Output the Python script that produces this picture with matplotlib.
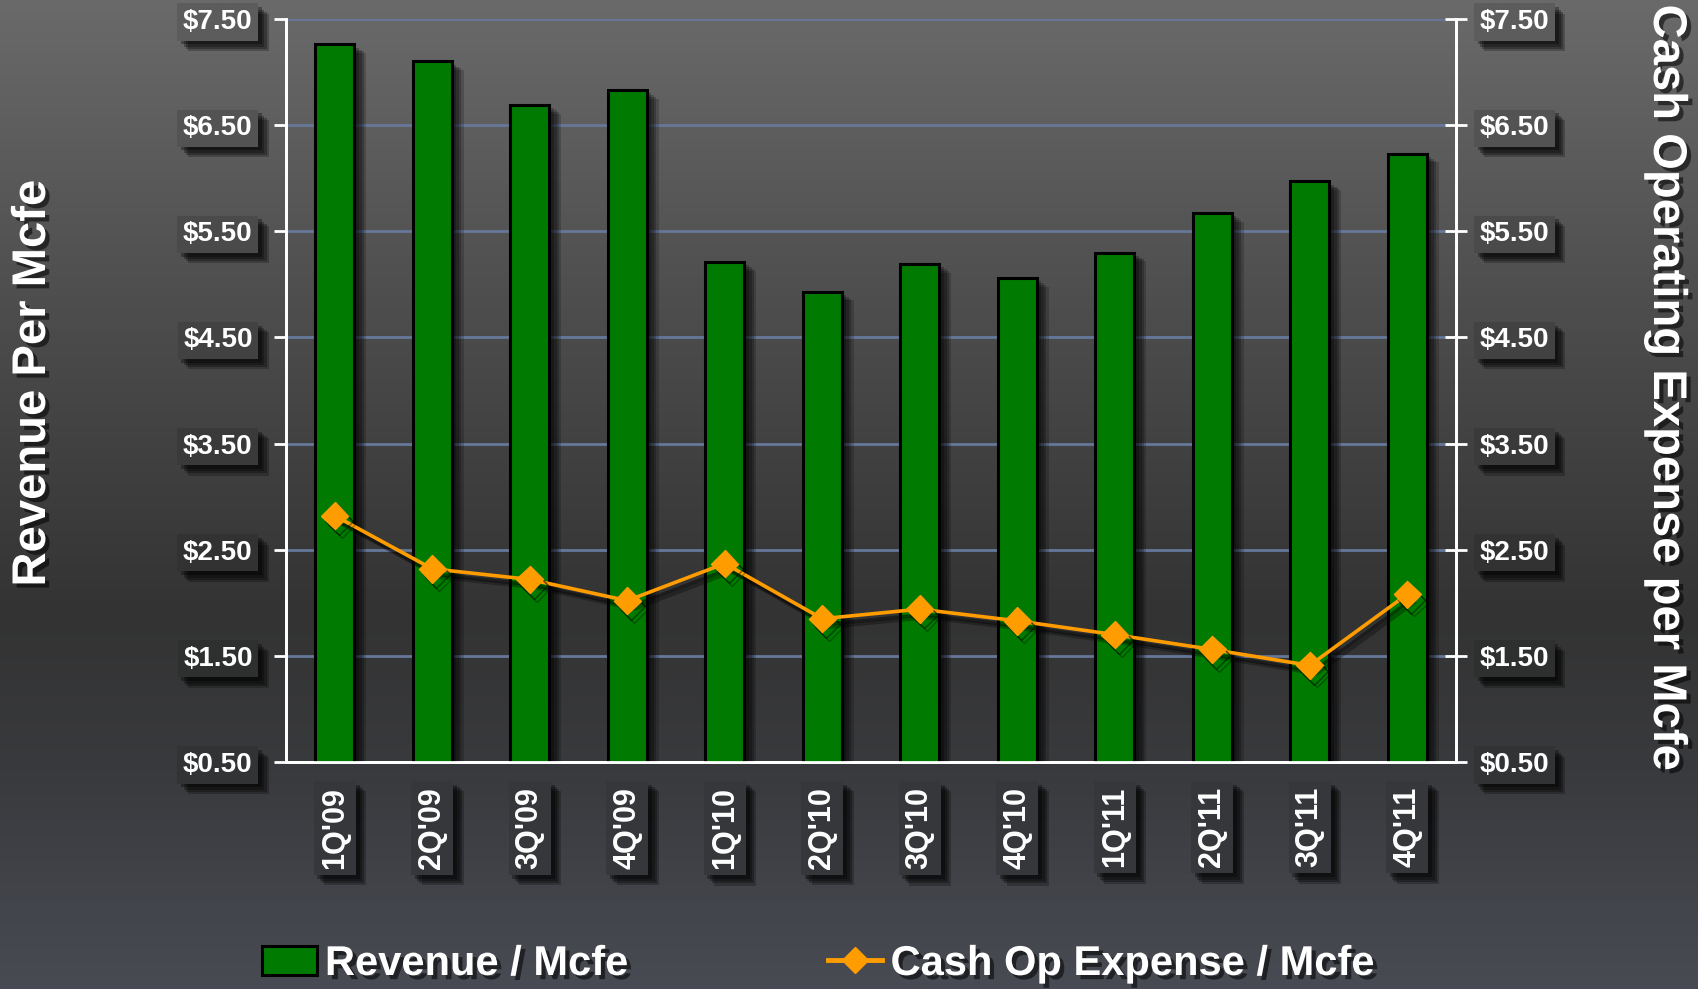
import numpy as np
import matplotlib
matplotlib.use("Agg")
import matplotlib.pyplot as plt
import matplotlib.patheffects as pe
from matplotlib.patches import Patch
from matplotlib.lines import Line2D
from matplotlib.colors import to_rgb

# ---------------- data ----------------
quarters = ["1Q'09", "2Q'09", "3Q'09", "4Q'09", "1Q'10", "2Q'10",
            "3Q'10", "4Q'10", "1Q'11", "2Q'11", "3Q'11", "4Q'11"]
revenue_per_mcfe = [7.26, 7.10, 6.69, 6.83, 5.21, 4.93,
                    5.19, 5.06, 5.30, 5.67, 5.97, 6.23]
cash_op_expense_per_mcfe = [2.82, 2.32, 2.22, 2.02, 2.37, 1.85,
                            1.94, 1.83, 1.70, 1.56, 1.41, 2.08]
y_ticks = [0.50, 1.50, 2.50, 3.50, 4.50, 5.50, 6.50, 7.50]
y_tick_labels = ["$0.50", "$1.50", "$2.50", "$3.50", "$4.50", "$5.50", "$6.50", "$7.50"]
series_names = ["Revenue / Mcfe", "Cash Op Expense / Mcfe"]
left_title = "Revenue Per Mcfe"
right_title = "Cash Operating Expense per Mcfe"

# ---------------- style ----------------
plt.rcParams['font.family'] = ['Liberation Sans', 'DejaVu Sans']
plt.rcParams['font.weight'] = 'bold'

W, H, DPI = 1698, 989, 100
fig = plt.figure(figsize=(W / DPI, H / DPI), dpi=DPI)

# background gradient (t = 0 at top, 1 at bottom)
stops_t = [0.0, 0.30, 0.62, 0.78, 1.0]
stops_c = [to_rgb('#6a6a6a'), to_rgb('#4e4e4e'), to_rgb('#333333'),
           to_rgb('#393a3d'), to_rgb('#484b53')]


def bg_color(t):
    t = min(max(t, 0.0), 1.0)
    return tuple(np.interp(t, stops_t, [c[i] for c in stops_c]) for i in range(3))


ts = np.linspace(0, 1, 400)
grad = np.array([bg_color(t) for t in ts])[:, None, :]
bg_ax = fig.add_axes([0, 0, 1, 1], zorder=-10)
bg_ax.imshow(grad, aspect='auto', extent=[0, 1, 0, 1], origin='upper')
bg_ax.set_axis_off()


def soft_patch_shadow(dx, dy, alpha):
    steps = [(0.45, 0.35), (0.75, 0.30), (1.0, 0.30), (1.25, 0.25)]
    return [pe.SimplePatchShadow(offset=(dx * s, dy * s), shadow_rgbFace='black', alpha=alpha * a)
            for s, a in steps] + [pe.Normal()]


L, R, B, T = 286 / W, 1456 / W, 1 - 762 / H, 1 - 19 / H
ax = fig.add_axes([L, B, R - L, T - B])
ax.patch.set_alpha(0)
ax2 = ax.twinx()
ax2.patch.set_alpha(0)

x = np.arange(len(quarters))
bars = ax.bar(x, revenue_per_mcfe, width=0.40, color='#007a00',
              edgecolor='black', linewidth=2.2, zorder=3)
for b in bars:
    b.set_path_effects(soft_patch_shadow(7, -5, 0.75))

line, = ax2.plot(x, cash_op_expense_per_mcfe, color='#ff9c00', linewidth=2.6,
                 marker='D', markersize=14, markerfacecolor='#ff9c00',
                 markeredgecolor='#ff9c00', zorder=5)
line.set_path_effects([pe.SimpleLineShadow(offset=(3, -4), shadow_color='black', alpha=0.45),
                       pe.SimpleLineShadow(offset=(5, -6), shadow_color='black', alpha=0.3),
                       pe.Normal()])

for a in (ax, ax2):
    a.set_ylim(0.5, 7.5)
    a.set_xlim(-0.5, len(quarters) - 0.5)
    a.set_yticks(y_ticks)
    for s in a.spines.values():
        s.set_color('white')
        s.set_linewidth(2)
    a.spines['top'].set_visible(False)

ax.set_yticklabels(y_tick_labels)
ax2.set_yticklabels(y_tick_labels)
ax.yaxis.grid(True, color='#66779a', linewidth=2)
ax.set_axisbelow(True)

ax.tick_params(axis='y', which='major', direction='out', length=9, width=2,
               color='white', pad=15, labelsize=20, labelcolor='white')
ax2.tick_params(axis='y', which='major', direction='inout', length=16, width=2,
                color='white', pad=9, labelsize=20, labelcolor='white')

# x axis: ticks at boundaries, labels at centres
ax.set_xticks(np.arange(-0.5, len(quarters), 1.0))
ax.set_xticklabels([])
ax.set_xticks(x, minor=True)
ax.set_xticklabels(quarters, minor=True, rotation=90)
ax.tick_params(axis='x', which='major', direction='out', length=10, width=2, color='white')
ax.tick_params(axis='x', which='minor', length=0, pad=18, labelsize=22, labelcolor='white')
ax2.set_xticks([])


def box_label(t, yfrac):
    c = np.array(bg_color(1 - yfrac)) * 0.88
    t.set_bbox(dict(boxstyle='square,pad=0.2', fc=tuple(c), ec='none'))
    t.get_bbox_patch().set_path_effects(soft_patch_shadow(6, -6, 0.95))


for a in (ax, ax2):
    for tick_val, t in zip(y_ticks, a.get_yticklabels()):
        box_label(t, B + (tick_val - 0.5) / 7 * (T - B))
for t in ax.get_xticklabels(minor=True):
    box_label(t, 1 - 825 / H)

txt_shadow = [pe.withSimplePatchShadow(offset=(3, -3), shadow_rgbFace='black', alpha=0.55)]

fig.text(33 / W, 1 - 383 / H, left_title, rotation=90, ha='center', va='center',
         fontsize=34, color='white', fontweight='bold', path_effects=txt_shadow)
fig.text(1666 / W, 1 - 388 / H, right_title, rotation=-90, ha='center', va='center',
         fontsize=34, color='white', fontweight='bold', path_effects=txt_shadow)

handles = [Patch(facecolor='#007a00', edgecolor='black', linewidth=2.2),
           Line2D([0], [0], color='#ff9c00', linewidth=3.5, marker='D', markersize=13)]
leg = fig.legend(handles, series_names, loc='center', bbox_to_anchor=(0.482, 1 - 964 / H),
                 ncol=2, frameon=False, fontsize=30, handlelength=1.3, handleheight=0.7,
                 handletextpad=0.2, columnspacing=4.8, borderaxespad=0)
for t in leg.get_texts():
    t.set_color('white')
    t.set_fontweight('bold')
    t.set_path_effects(txt_shadow)

fig.savefig('out.png', dpi=DPI)
